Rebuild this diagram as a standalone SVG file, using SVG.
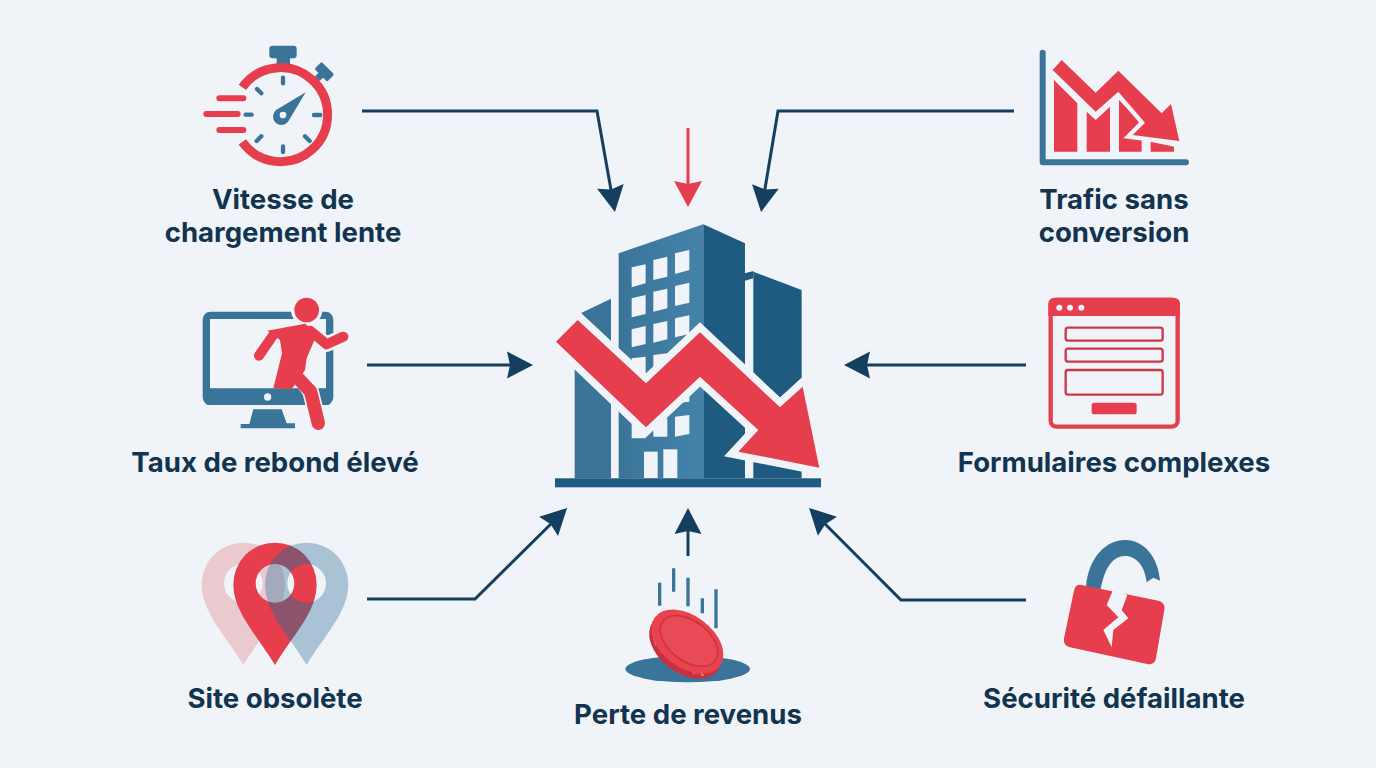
<svg xmlns="http://www.w3.org/2000/svg" width="1376" height="768" viewBox="0 0 1376 768">
<style>
.lbl{font-family:"Inter","Liberation Sans",sans-serif;font-weight:700;font-size:27.6px;fill:#12344f;text-anchor:middle}
.conn{fill:none;stroke:#143f5f;stroke-width:3}
.halo{stroke:#f0f4f8;stroke-linejoin:miter;stroke-miterlimit:5;paint-order:stroke}
.red{fill:#e63e4c}.blue{fill:#3a7499}.win{fill:#f0f4f8}
</style>
<defs>
<marker id="ah" markerUnits="userSpaceOnUse" markerWidth="30" markerHeight="30" refX="5" refY="15" orient="auto"><path d="M1,1.5L27,15L1,28.5L4,15z" fill="#143f5f"/></marker>
<marker id="ahr" markerUnits="userSpaceOnUse" markerWidth="30" markerHeight="30" refX="5" refY="15" orient="auto"><path d="M1,1L27,15L1,29L4,15z" fill="#e63e4c"/></marker>
<linearGradient id="lf" x1="0" y1="0" x2="1" y2="0"><stop offset="0" stop-color="#3a7499"/><stop offset="1" stop-color="#4583aa"/></linearGradient>
<path id="pin" fill-rule="evenodd" clip-rule="evenodd" d="M0,405C-58,310-125,245-125,163A125,125 0 0 1 125,163C125,245 58,310 0,405ZM58,160A58,58 0 1 0-58,160A58,58 0 1 0 58,160Z"/>
<clipPath id="cp"><use href="#pin" x="255"/></clipPath>
</defs>
<rect width="1376" height="768" fill="#f0f4f8"/>

<g id="connectors">
<path class="conn" marker-end="url(#ah)" d="M362,111H597L611.1,190.4"/>
<path class="conn" marker-end="url(#ah)" d="M1014,111H778L764.7,190.4"/>
<path class="conn" marker-end="url(#ahr)" style="stroke:#e63e4c" d="M688,128V185"/>
<path class="conn" marker-end="url(#ah)" d="M367,365H511"/>
<path class="conn" marker-end="url(#ah)" d="M1026,365H866"/>
<path class="conn" marker-end="url(#ah)" d="M367,599H475L551.4,523.5"/>
<path class="conn" marker-end="url(#ah)" d="M688,556V530"/>
<path class="conn" marker-end="url(#ah)" d="M1026,600H901L824.6,523.5"/>
</g>

<g id="node-center" transform="translate(540,210) scale(.3333)">
<polygon fill="#3a7499" points="125,308 213,266 213,805 104,805 104,400"/>
<polygon fill="url(#lf)" points="236,130 490,43 490,805 236,805"/>
<polygon fill="#1f5a80" points="490,43 615,100 615,805 490,805"/>
<polygon fill="#1f5a80" points="640,185 785,240 785,805 640,805"/>
<polygon fill="#1f5a80" points="615,190 640,183 640,205 615,212"/>
<g class="win">
<polygon points="275,172 317,163 317,220 275,232"/><polygon points="340,150 382,140 382,200 340,210"/><polygon points="405,130 448,120 448,180 405,192"/>
<polygon points="275,265 317,255 317,312 275,322"/><polygon points="340,245 382,236 382,295 340,305"/><polygon points="405,228 448,218 448,278 405,288"/>
<polygon points="275,358 317,348 317,402 275,412"/><polygon points="340,342 382,333 382,388 340,398"/><polygon points="405,325 448,316 448,372 405,382"/>
<polygon points="275,445 317,440 317,495 275,500"/><polygon points="340,435 382,430 382,490 340,495"/><polygon points="405,530 448,520 448,575 405,580"/>
<polygon points="275,640 317,635 317,685 275,685"/><polygon points="340,630 382,625 382,680 340,680"/><polygon points="405,620 448,615 448,672 405,680"/>
<rect x="312" y="725" width="41" height="80"/><rect x="370" y="718" width="42" height="87"/>
</g>
<polygon class="red halo" stroke-width="44" points="113,330 318,520 480,367 720,592 788,530 838,773 595,725 655,660 480,500 318,652 48,395"/>
<rect x="45" y="805" width="798" height="27" fill="#1f5a80"/>
</g>

<g id="node-vitesse">
<g transform="translate(190,30) scale(.3333)">
<rect x="238" y="47" width="82" height="38" rx="9" fill="#3a7499"/><rect x="260" y="80" width="40" height="25" fill="#3a7499"/>
<g transform="translate(403,125) rotate(45)"><rect x="-27" y="-15" width="54" height="30" rx="5" fill="#3a7499"/><rect x="-10" y="10" width="20" height="20" fill="#3a7499"/></g>
<path d="M157,172A141,141 0 1 1 157,336" fill="none" stroke="#e63e4c" stroke-width="27"/>
<g stroke="#e63e4c" stroke-width="18" stroke-linecap="round"><path d="M88,205H160M49,252H143M88,300H160"/></g>
<path d="M279,143V160M279,349V366M372,255H391M167,254H185M201,177L214,190M345,319L359,333M214,319L200,333" fill="none" stroke="#3a7499" stroke-width="13" stroke-linecap="round"/>
<path fill="#3a7499" d="M347,187L296,272A25,25 0 1 1 262,238Z"/><circle cx="279" cy="255" r="10" fill="#f0f4f8"/>
</g>
<text class="lbl" x="283" y="209">Vitesse de</text><text class="lbl" x="283" y="242">chargement lente</text>
</g>

<g id="node-rebond">
<g transform="translate(190,290) scale(.3333)">
<rect x="49" y="76" width="370" height="258" rx="12" fill="none" stroke="#3a7499" stroke-width="22"/>
<rect x="45" y="295" width="378" height="50" rx="12" fill="#3a7499"/>
<circle cx="233" cy="321" r="11" fill="#f0f4f8"/>
<path fill="#3a7499" d="M190,358H275L290,400H315V415H152V402H178Z"/>
<g fill="none" stroke="#f0f4f8" stroke-linecap="round" stroke-linejoin="round"><path stroke-width="46" d="M250,135L207,197M360,122L410,163L460,140M355,130L345,210"/><path stroke-width="50" d="M325,250L362,305L385,400"/></g>
<circle cx="350" cy="60" r="47" fill="#f0f4f8"/>
<circle cx="350" cy="60" r="37" fill="#e63e4c"/>
<polygon class="red" points="232,122 345,101 382,130 350,205 345,240 305,298 250,295 276,190 270,150"/>
<g fill="none" stroke="#e63e4c" stroke-linecap="round" stroke-linejoin="round"><path stroke-width="30" d="M250,135L207,197M360,122L410,163L460,140"/><path stroke-width="40" d="M315,255L362,305L385,400"/></g>
</g>
<text class="lbl" x="275" y="472">Taux de rebond élevé</text>
</g>

<g id="node-site">
<g transform="translate(190,530) scale(.3333)">
<use href="#pin" x="160" fill="#eac9cf"/>
<use href="#pin" x="255" fill="#e63e4c"/>
<use href="#pin" x="350" fill="#3e7aa0" opacity=".4"/>
<g clip-path="url(#cp)"><use href="#pin" x="350" fill="#26406a" opacity=".17"/></g>
</g>
<text class="lbl" x="275" y="708">Site obsolète</text>
</g>

<g id="node-perte">
<g transform="translate(610,560) scale(.3333)">
<ellipse cx="233" cy="327" rx="187" ry="40" fill="#3a7499"/>
<path d="M149,68V137M191,25V95M234,53V139M277,115V160M318,88V205" stroke="#3a7499" stroke-width="10"/>
<ellipse cx="226" cy="259" rx="122" ry="80" transform="rotate(37 226 259)" fill="#c9303f"/>
<path d="M132,232L140,256M150,254L160,278M170,272L182,296M192,290L204,314M218,306L228,328M246,318L254,342M272,326L278,348" stroke="#ee7d86" stroke-width="7"/>
<ellipse cx="232" cy="245" rx="122" ry="78" transform="rotate(37 232 245)" fill="#e8434f"/>
<ellipse cx="237" cy="243" rx="98" ry="60" transform="rotate(37 237 243)" fill="#e94b56" stroke="#cf3240" stroke-width="5"/>
</g>
<text class="lbl" x="688" y="724">Perte de revenus</text>
</g>

<g id="node-trafic">
<g transform="translate(1030,40) scale(.3333)">
<path d="M38,38V367H468" fill="none" stroke="#3a7499" stroke-width="18" stroke-linecap="round" stroke-linejoin="round"/>
<g class="red"><polygon points="72,120 142,190 142,335 72,335"/><polygon points="170,215 197,240 240,200 240,335 170,335"/><polygon points="267,180 335,250 335,335 267,335"/><polygon points="362,305 432,320 432,335 362,335"/></g>
<polygon class="red halo" stroke-width="26" points="95,60 197,158 265,92 395,220 423,192 448,303 308,285 345,248 265,155 197,215 68,90"/>
</g>
<text class="lbl" x="1114" y="209">Trafic sans</text><text class="lbl" x="1114" y="242">conversion</text>
</g>

<g id="node-formulaires">
<g transform="translate(1035,290) scale(.3333)">
<rect x="47" y="30" width="381" height="380" rx="18" fill="#f0f4f8" stroke="#e63e4c" stroke-width="13"/>
<path class="red" d="M40,78V40A18,18 0 0 1 58,23H417A18,18 0 0 1 435,40V78Z"/>
<circle cx="73" cy="53" r="9" fill="#f0f4f8"/><circle cx="105" cy="53" r="9" fill="#f0f4f8"/><circle cx="139" cy="53" r="9" fill="#f0f4f8"/>
<g fill="#f0f4f8" stroke="#c93a48" stroke-width="7"><rect x="92" y="113" width="291" height="39" rx="7"/><rect x="92" y="176" width="291" height="39" rx="7"/><rect x="92" y="240" width="291" height="74" rx="7"/></g>
<rect class="red" x="170" y="338" width="135" height="35" rx="8"/>
</g>
<text class="lbl" x="1114" y="472">Formulaires complexes</text>
</g>

<g id="node-securite">
<g transform="translate(1050,530) scale(.3333)">
<path fill="#3a7499" d="M108,172C115,80 170,30 225,30C285,30 325,85 330,152L310,143L290,157C285,110 260,78 225,78C190,78 165,110 152,178Z"/>
<path class="red" d="M95,165L325,212Q347,218 343,240L318,385Q313,407 292,402L60,352Q38,346 42,325L72,182Q77,161 95,165Z"/>
<polygon fill="#f0f4f8" points="190,178 232,195 215,240 235,265 190,300 185,352 160,300 205,262 170,225"/>
</g>
<text class="lbl" x="1114" y="708">Sécurité défaillante</text>
</g>
</svg>
